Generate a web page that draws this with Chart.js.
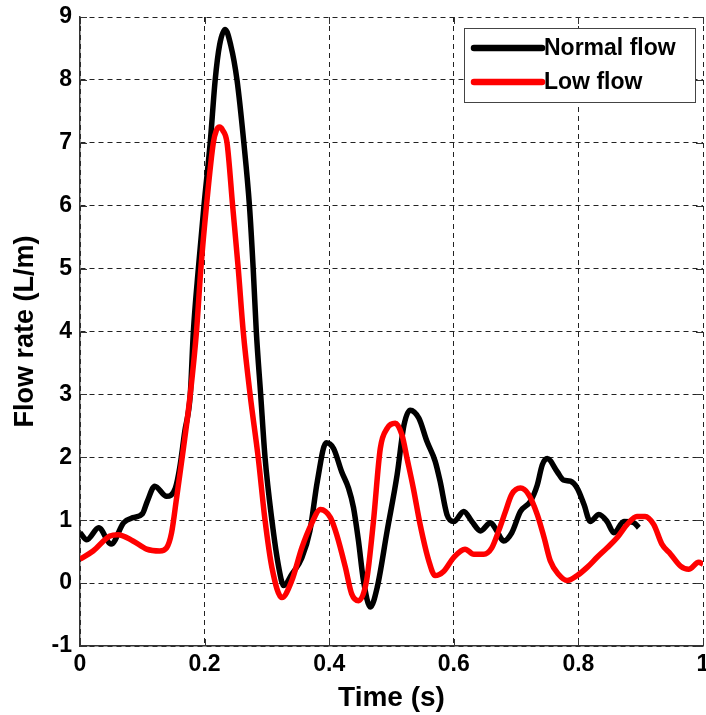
<!DOCTYPE html>
<html>
<head>
<meta charset="utf-8">
<script src="https://cdn.jsdelivr.net/npm/chart.js@4"></script>
<style>
  html, body { margin: 0; padding: 0; background: #fff; }
  #wrap { width: 706px; height: 715px; position: relative; }
</style>
</head>
<body>
<div id="wrap"><canvas id="c" width="706" height="715"></canvas></div>
<script>
// ---- data ----
const seriesLabels = ["Normal flow", "Low flow"];

const normalTime = [0, 0.011, 0.03, 0.05, 0.07, 0.085, 0.1, 0.108, 0.12, 0.139, 0.153, 0.16, 0.168, 0.177, 0.182, 0.19, 0.199,
  0.209, 0.217, 0.224, 0.233, 0.242, 0.252, 0.263, 0.272, 0.278, 0.283, 0.29, 0.297, 0.308, 0.319, 0.327, 0.34,
  0.356, 0.369, 0.381, 0.395, 0.407, 0.42, 0.431, 0.439, 0.447, 0.455, 0.466, 0.477, 0.493, 0.509, 0.52, 0.53,
  0.544, 0.557, 0.57, 0.578, 0.589, 0.6, 0.616, 0.629, 0.643, 0.659, 0.669, 0.68, 0.693, 0.707, 0.723, 0.734,
  0.742, 0.75, 0.766, 0.776, 0.787, 0.798, 0.809, 0.819, 0.833, 0.846, 0.857, 0.873, 0.889, 0.897];
const normalFlow = [0.8, 0.69, 0.88, 0.62, 0.96, 1.04, 1.1, 1.3, 1.54, 1.38, 1.51, 1.83, 2.4, 3.0, 4.0, 5.0, 6.0,
  7.0, 8.0, 8.55, 8.8, 8.55, 8.0, 7.0, 6.0, 5.0, 4.0, 3.0, 2.0, 1.0, 0.25, -0.04, 0.14,
  0.4, 0.83, 1.62, 2.23, 2.14, 1.77, 1.51, 1.2, 0.67, 0.04, -0.38, -0.07, 0.83, 1.72, 2.51, 2.75,
  2.62, 2.25, 1.94, 1.62, 1.09, 0.98, 1.14, 0.98, 0.83, 0.96, 0.83, 0.67, 0.8, 1.14, 1.3, 1.56,
  1.88, 1.98, 1.77, 1.64, 1.62, 1.51, 1.25, 0.98, 1.09, 0.98, 0.8, 0.98, 0.96, 0.88];

const lowTime = [0, 0.021, 0.048, 0.061, 0.085, 0.107, 0.128, 0.139, 0.147, 0.155, 0.166, 0.177, 0.187, 0.194, 0.203,
  0.214, 0.219, 0.224, 0.229, 0.236, 0.245, 0.254, 0.262, 0.273, 0.286, 0.297, 0.308, 0.324, 0.34, 0.356, 0.371,
  0.386, 0.402, 0.412, 0.426, 0.436, 0.447, 0.46, 0.471, 0.482, 0.493, 0.506, 0.517, 0.525, 0.535, 0.546, 0.56,
  0.57, 0.584, 0.6, 0.618, 0.632, 0.648, 0.661, 0.672, 0.683, 0.693, 0.707, 0.72, 0.734, 0.745, 0.755, 0.768,
  0.782, 0.798, 0.814, 0.83, 0.846, 0.862, 0.878, 0.894, 0.907, 0.921, 0.934, 0.948, 0.964, 0.977, 0.993, 1.0];
const lowFlow = [0.38, 0.51, 0.75, 0.77, 0.67, 0.54, 0.51, 0.56, 0.8, 1.35, 2.14, 3.0, 4.0, 5.0, 6.0,
  7.0, 7.2, 7.25, 7.2, 7.0, 6.0, 5.0, 4.0, 3.0, 2.0, 1.0, 0.25, -0.23, 0.04, 0.56, 0.93,
  1.17, 1.04, 0.77, 0.25, -0.17, -0.28, 0.04, 0.98, 2.14, 2.46, 2.54, 2.35, 1.98, 1.51, 0.93, 0.35,
  0.12, 0.19, 0.41, 0.54, 0.46, 0.46, 0.56, 0.83, 1.14, 1.41, 1.51, 1.41, 1.09, 0.72, 0.35, 0.14,
  0.04, 0.12, 0.25, 0.41, 0.56, 0.72, 0.93, 1.06, 1.06, 0.93, 0.62, 0.46, 0.27, 0.22, 0.33, 0.3];

const xTicks = [0, 0.2, 0.4, 0.6, 0.8, 1];
const yTicks = [-1, 0, 1, 2, 3, 4, 5, 6, 7, 8, 9];
const xTitle = "Time (s)";
const yTitle = "Flow rate (L/m)";

// ---- helpers ----
const toPoints = (xs, ys) => xs.map((x, i) => ({ x: x, y: ys[i] }));
const FONT = "'Liberation Sans', Arial, sans-serif";

// inward tick marks on all four sides
const innerTicks = {
  id: 'innerTicks',
  afterDraw(chart) {
    const { ctx, chartArea: a, scales } = chart;
    const L = 7;
    ctx.save();
    ctx.strokeStyle = '#333';
    ctx.lineWidth = 1;
    ctx.beginPath();
    xTicks.forEach(v => {
      const px = Math.round(scales.x.getPixelForValue(v)) + 0.5;
      ctx.moveTo(px, a.bottom); ctx.lineTo(px, a.bottom - L);
      ctx.moveTo(px, a.top); ctx.lineTo(px, a.top + L);
    });
    yTicks.forEach(v => {
      const py = Math.round(scales.y.getPixelForValue(v)) + 0.5;
      ctx.moveTo(a.left, py); ctx.lineTo(a.left + L, py);
      ctx.moveTo(a.right, py); ctx.lineTo(a.right - L, py);
    });
    ctx.stroke();
    ctx.restore();
  }
};

// legend box inside the plot, top-right
const insideLegend = {
  id: 'insideLegend',
  afterDraw(chart) {
    const { ctx, chartArea: a } = chart;
    const boxR = a.right - 8, boxL = boxR - 231, boxT = a.top + 11, boxH = 74;
    ctx.save();
    ctx.fillStyle = '#fff';
    ctx.fillRect(boxL, boxT, boxR - boxL, boxH);
    ctx.strokeStyle = '#444';
    ctx.lineWidth = 1;
    ctx.strokeRect(boxL + 0.5, boxT + 0.5, boxR - boxL, boxH);
    ctx.font = 'bold 23px ' + FONT;
    ctx.textBaseline = 'middle';
    ctx.textAlign = 'left';
    chart.data.datasets.forEach((ds, i) => {
      const y = boxT + 20 + i * 34;
      ctx.strokeStyle = ds.borderColor;
      ctx.lineWidth = 6.5;
      ctx.lineCap = 'round';
      ctx.beginPath();
      ctx.moveTo(boxL + 10, y); ctx.lineTo(boxL + 78, y);
      ctx.stroke();
      ctx.fillStyle = '#000';
      ctx.fillText(ds.label, boxL + 80, y + 1);
    });
    ctx.restore();
  }
};

new Chart(document.getElementById('c'), {
  type: 'line',
  data: {
    datasets: [
      {
        label: seriesLabels[0],
        data: toPoints(normalTime, normalFlow),
        borderColor: '#000000',
        borderWidth: 5.5,
        pointRadius: 0,
        cubicInterpolationMode: 'monotone',
        fill: false,
        order: 1
      },
      {
        label: seriesLabels[1],
        data: toPoints(lowTime, lowFlow),
        borderColor: '#ff0000',
        borderWidth: 5.5,
        pointRadius: 0,
        cubicInterpolationMode: 'monotone',
        fill: false,
        order: 0
      }
    ]
  },
  options: {
    responsive: false,
    animation: false,
    devicePixelRatio: 1,
    layout: { padding: { top: 17, right: 3, left: 0, bottom: 0 } },
    plugins: {
      legend: { display: false },
      tooltip: { enabled: false }
    },
    scales: {
      x: {
        type: 'linear',
        min: 0, max: 1,
        afterBuildTicks: s => { s.ticks = xTicks.map(v => ({ value: v })); },
        ticks: {
          color: '#000',
          font: { family: FONT, size: 23, weight: 'bold' },
          padding: 5,
          maxRotation: 0,
          callback: v => String(v)
        },
        grid: {
          color: '#222',
          lineWidth: 1,
          drawTicks: false,
          tickLength: 0
        },
        border: { display: true, color: '#333', width: 1.5, dash: [5, 4] },
        title: {
          display: true,
          text: xTitle,
          color: '#000',
          font: { family: FONT, size: 28, weight: 'bold' },
          padding: { top: 0, bottom: 0 }
        },
        afterFit: s => { s.height = 69; s.paddingLeft = 0; s.paddingRight = 0; }
      },
      y: {
        type: 'linear',
        min: -1, max: 9,
        afterBuildTicks: s => { s.ticks = yTicks.map(v => ({ value: v })); },
        ticks: {
          color: '#000',
          font: { family: FONT, size: 23, weight: 'bold' },
          padding: 8,
          callback: v => String(v)
        },
        grid: {
          color: '#222',
          lineWidth: 1,
          drawTicks: false,
          tickLength: 0
        },
        border: { display: true, color: '#333', width: 1.5, dash: [5, 4] },
        title: {
          display: true,
          text: yTitle,
          color: '#000',
          font: { family: FONT, size: 27, weight: 'bold' },
          padding: { top: 9, bottom: 0 }
        },
        afterFit: s => { s.width = 80; s.paddingTop = 0; s.paddingBottom = 0; }
      }
    }
  },
  plugins: [innerTicks, insideLegend]
});
</script>
</body>
</html>
